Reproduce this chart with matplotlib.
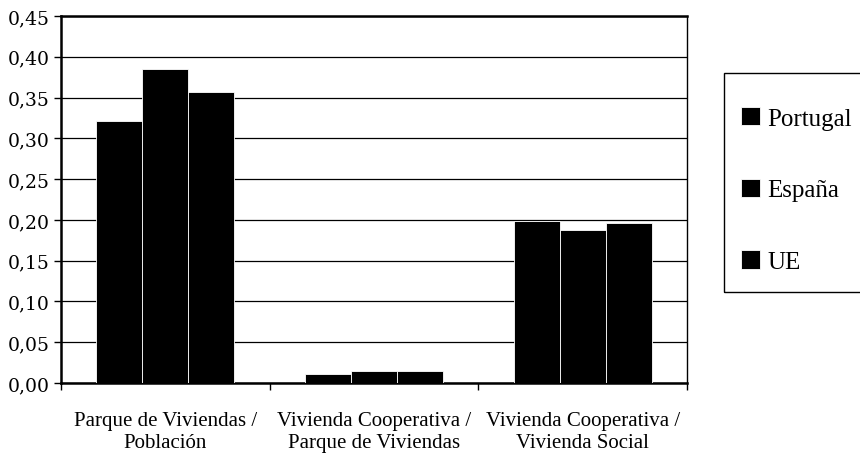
import matplotlib
matplotlib.use("Agg")
import matplotlib.pyplot as plt
from matplotlib.patches import Rectangle
import numpy as np

categories = ["Parque de Viviendas /\nPoblación",
              "Vivienda Cooperativa /\nParque de Viviendas",
              "Vivienda Cooperativa /\nVivienda Social"]
series_names = ["Portugal", "España", "UE"]
portugal = [0.321, 0.011, 0.199]
espana = [0.385, 0.015, 0.188]
ue = [0.357, 0.015, 0.196]
yticks = [0.00, 0.05, 0.10, 0.15, 0.20, 0.25, 0.30, 0.35, 0.40, 0.45]

plt.rcParams['font.family'] = ['Liberation Serif', 'DejaVu Serif']

fig = plt.figure(figsize=(8.6, 4.56), dpi=100)
ax = fig.add_axes([61/860, 1-384/456, (687-61)/860, (384-17)/456])

x = np.arange(len(categories))
w = 0.22
for i, vals in enumerate([portugal, espana, ue]):
    ax.bar(x + (i-1)*w, vals, width=w, color='black', edgecolor='white',
           linewidth=0.6, label=series_names[i], zorder=3)

ax.set_xlim(-0.5, 2.5)
ax.set_ylim(0, 0.45)
ax.set_yticks(yticks)
ax.set_yticklabels([f"{t:.2f}".replace('.', ',') for t in yticks],
                   fontsize=13.5, family=['DejaVu Serif'])
ax.yaxis.grid(True, color='black', linewidth=0.9, zorder=0)
ax.set_xticks([-0.5, 0.5, 1.5, 2.5])
ax.set_xticklabels([])
ax.set_xticks(x, minor=True)
ax.set_xticklabels(categories, minor=True, fontsize=15, linespacing=1.2)
ax.tick_params(axis='x', which='minor', length=0, pad=20)
ax.tick_params(axis='x', which='major', length=5, direction='out', width=1)
ax.tick_params(axis='y', length=5, direction='out', width=1, pad=3)
for s in ax.spines.values():
    s.set_linewidth(1.8)
    s.set_color('black')
ax.spines['right'].set_linewidth(1.0)

# legend box
fig.patches.append(Rectangle((724/860, 1-293/456), 0.2, (293-74)/456,
                             transform=fig.transFigure, fill=False,
                             edgecolor='black', linewidth=1.0))
handles, labels = ax.get_legend_handles_labels()
leg = fig.legend(handles, labels, loc='upper left',
                 bbox_to_anchor=(741/860, 1-108/456), frameon=False,
                 fontsize=18, labelspacing=1.95, handlelength=0.75,
                 handleheight=0.75, handletextpad=0.3, borderaxespad=0,
                 borderpad=0)

fig.savefig("out.png", dpi=100)
